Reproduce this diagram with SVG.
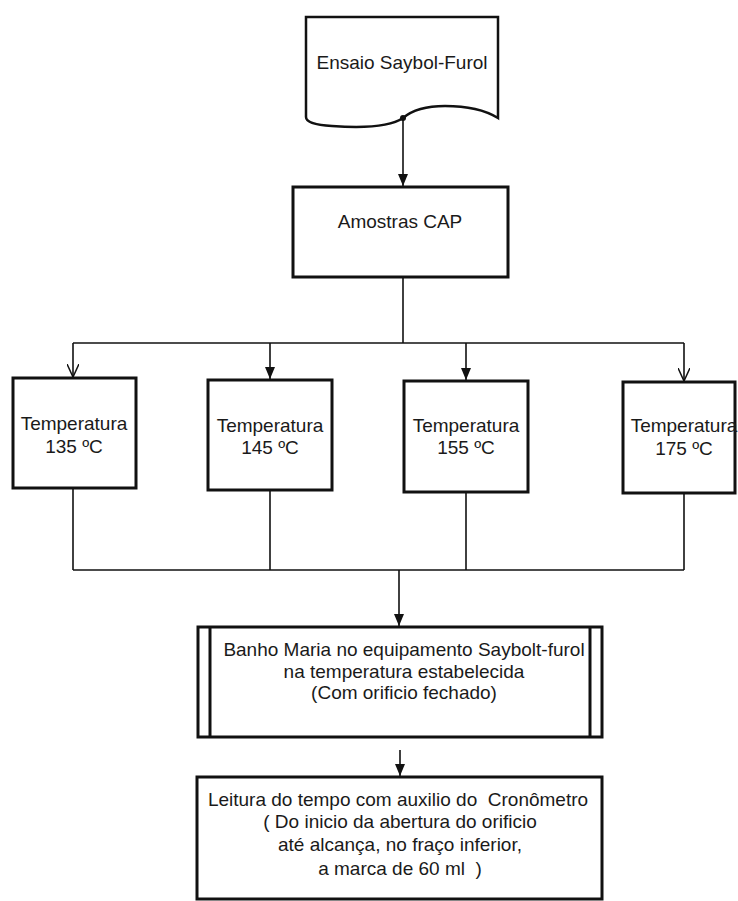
<svg xmlns="http://www.w3.org/2000/svg" width="738" height="901" viewBox="0 0 738 901">
<defs>
<style>
.box{fill:#fff;stroke:#111;stroke-width:3}
.doc{fill:#fff;stroke:#111;stroke-width:2.5}
.ln{fill:none;stroke:#111;stroke-width:1.6}
.t{font-family:"Liberation Sans",Arial,sans-serif;font-size:19px;fill:#1a1a1a;text-anchor:middle;white-space:pre}
</style>
<marker id="fa" viewBox="0 0 10 12" refX="5" refY="12" markerWidth="10" markerHeight="12" markerUnits="userSpaceOnUse" orient="0">
<path d="M0,0 L10,0 L5,12 Z" fill="#111"/>
</marker>
<marker id="oa" viewBox="0 0 12 14" refX="6" refY="13" markerWidth="12" markerHeight="14" markerUnits="userSpaceOnUse" orient="0">
<path d="M0,0 L6,13 L12,0" fill="none" stroke="#111" stroke-width="1.5"/>
</marker>
</defs>
<rect width="738" height="901" fill="#fff"/>
<g id="connectors">
<line class="ln" x1="403" y1="120" x2="403" y2="186" marker-end="url(#fa)"/>
<line class="ln" x1="403" y1="278" x2="403" y2="343"/>
<line class="ln" x1="73" y1="343" x2="684" y2="343"/>
<line class="ln" x1="73" y1="343" x2="73" y2="377" marker-end="url(#oa)"/>
<line class="ln" x1="270" y1="343" x2="270" y2="379" marker-end="url(#fa)"/>
<line class="ln" x1="466" y1="343" x2="466" y2="380" marker-end="url(#fa)"/>
<line class="ln" x1="684" y1="343" x2="684" y2="381" marker-end="url(#oa)"/>
<line class="ln" x1="73" y1="489" x2="73" y2="570"/>
<line class="ln" x1="270" y1="491" x2="270" y2="570"/>
<line class="ln" x1="466" y1="493" x2="466" y2="570"/>
<line class="ln" x1="684" y1="494" x2="684" y2="570"/>
<line class="ln" x1="73" y1="570" x2="684" y2="570"/>
<line class="ln" x1="399" y1="570" x2="399" y2="626" marker-end="url(#fa)"/>
<line class="ln" x1="400" y1="750" x2="400" y2="776" marker-end="url(#fa)"/>
</g>
<g id="n-ensaio">
<path class="doc" d="M306,17 H498 V118 C485,110 470,106 445,106 C422,106 410,112 403,118 C390,127 360,128 332,126 C315,125 306,122 306,117 Z"/>
<circle cx="403" cy="118" r="3" fill="#111"/>
<text class="t" x="402" y="69">Ensaio Saybol-Furol</text>
</g>
<g id="n-amostras">
<rect class="box" x="293" y="187" width="215" height="90"/>
<text class="t" x="400" y="228">Amostras CAP</text>
</g>
<g id="n-t135">
<rect class="box" x="13" y="378" width="123" height="110"/>
<text class="t" x="74" y="430">Temperatura</text>
<text class="t" x="74" y="453">135 ºC</text>
</g>
<g id="n-t145">
<rect class="box" x="208" y="380" width="124" height="110"/>
<text class="t" x="270" y="432">Temperatura</text>
<text class="t" x="270" y="454">145 ºC</text>
</g>
<g id="n-t155">
<rect class="box" x="404" y="381" width="124" height="111"/>
<text class="t" x="466" y="432">Temperatura</text>
<text class="t" x="466" y="454">155 ºC</text>
</g>
<g id="n-t175">
<rect class="box" x="623" y="382" width="112" height="111"/>
<text class="t" x="684" y="432">Temperatura</text>
<text class="t" x="684" y="455">175 ºC</text>
</g>
<g id="n-banho">
<rect class="box" x="198" y="627" width="404" height="110"/>
<line class="box" x1="210" y1="627" x2="210" y2="737"/>
<line class="box" x1="590" y1="627" x2="590" y2="737"/>
<text class="t" x="404" y="656">Banho Maria no equipamento Saybolt-furol</text>
<text class="t" x="404" y="678">na temperatura estabelecida</text>
<text class="t" x="404" y="699">(Com orificio fechado)</text>
</g>
<g id="n-leitura">
<rect class="box" x="197" y="777" width="405" height="122"/>
<text class="t" x="398" y="806">Leitura do tempo com auxilio do  Cronômetro</text>
<text class="t" x="400" y="828">( Do inicio da abertura do orificio</text>
<text class="t" x="400" y="851">até alcança, no fraço inferior,</text>
<text class="t" x="400" y="875">a marca de 60 ml  )</text>
</g>
</svg>
